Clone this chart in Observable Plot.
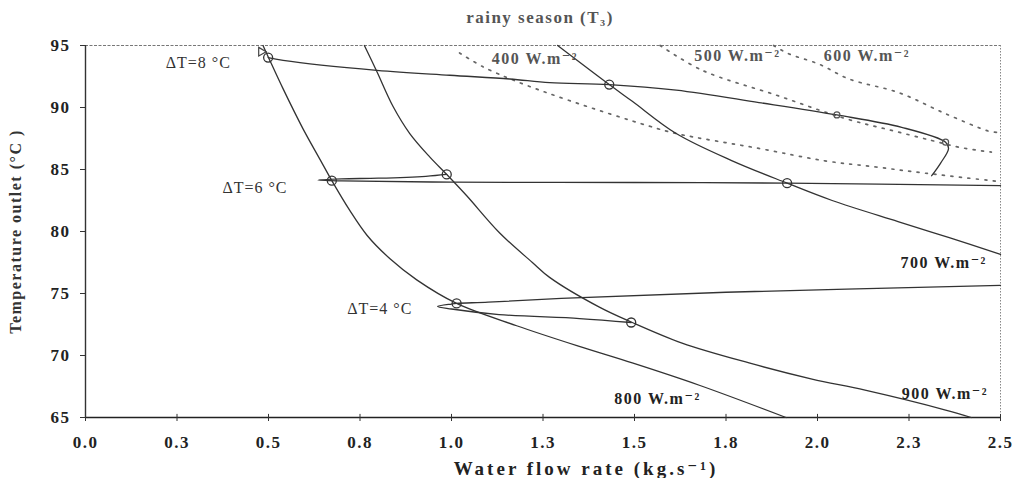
<!DOCTYPE html>
<html>
<head>
<meta charset="utf-8">
<script src="https://cdn.jsdelivr.net/npm/d3@7"></script>
<script src="https://cdn.jsdelivr.net/npm/@observablehq/plot@0.6"></script>
<style>
  html, body { margin: 0; padding: 0; background: #fff; }
  #chart svg { display: block; }
</style>
</head>
<body>
<div id="chart"></div>
<script>
// ---- axis ticks ----
const xTicks = [0, 0.25, 0.5, 0.75, 1.0, 1.25, 1.5, 1.75, 2.0, 2.25, 2.5];
const xTickLabels = ["0.0", "0.3", "0.5", "0.8", "1.0", "1.3", "1.5", "1.8", "2.0", "2.3", "2.5"];
const yTicks = [65, 70, 75, 80, 85, 90, 95];

// ---- solid irradiance curves (flow, temperature) ----
const flow800 = [0.485, 0.499, 0.540, 0.594, 0.641, 0.673, 0.722, 0.769, 0.832, 0.905, 1.014, 1.178, 1.358, 1.494, 1.677, 1.914];
const temp800 = [95.0, 94.1, 91.5, 88.3, 85.8, 84.1, 81.7, 79.7, 77.8, 76.1, 74.2, 72.4, 70.65, 69.4, 67.6, 65.0];
const flow900 = [0.762, 0.796, 0.840, 0.886, 0.941, 0.987, 1.041, 1.131, 1.221, 1.268, 1.404, 1.491, 1.63, 1.813, 1.985, 2.13, 2.35, 2.42];
const temp900 = [95.0, 92.9, 90.1, 87.9, 86.0, 84.6, 82.9, 79.9, 77.5, 76.3, 73.9, 72.7, 71.0, 69.4, 68.1, 67.2, 65.6, 65.0];
const flow700 = [1.29, 1.431, 1.494, 1.614, 1.767, 1.917, 2.04, 2.22, 2.36, 2.5];
const temp700 = [95.0, 91.85, 90.5, 87.9, 85.7, 83.9, 82.5, 80.8, 79.5, 78.15];

// ---- dotted irradiance curves ----
const flow400 = [1.022, 1.085, 1.178, 1.322, 1.54, 1.614, 1.84, 2.02, 2.16, 2.295, 2.49];
const temp400 = [94.4, 93.3, 92.1, 90.56, 88.5, 87.9, 86.7, 85.7, 85.2, 84.7, 84.05];
const flow500 = [1.57, 1.685, 1.887, 2.077, 2.203, 2.312, 2.386, 2.475];
const temp500 = [95.0, 93.0, 91.0, 89.1, 88.15, 87.34, 86.8, 86.4];
const flow600 = [1.88, 1.92, 2.004, 2.086, 2.222, 2.35, 2.467, 2.49];
const temp600 = [95.0, 94.35, 93.5, 92.3, 91.2, 89.5, 88.1, 88.0];

// ---- constant ΔT paths ----
const flowDT8 = [0.499, 0.54, 0.796, 0.995, 1.159, 1.268, 1.431, 1.614, 1.84, 2.053, 2.23, 2.35, 2.358, 2.336, 2.312];
const tempDT8 = [94.03, 93.8, 93.0, 92.6, 92.3, 92.0, 91.85, 91.4, 90.4, 89.4, 88.4, 87.2, 86.7, 85.5, 84.5];
const flowDT6 = [0.987, 0.93, 0.80, 0.70, 0.635, 0.70, 1.0, 1.5, 1.917, 2.5];
const tempDT6 = [84.6, 84.45, 84.3, 84.25, 84.15, 84.08, 83.98, 83.95, 83.9, 83.7];
const flowDT4 = [1.491, 1.35, 1.13, 1.0, 0.962, 1.0, 1.014, 1.1, 1.3, 1.75, 2.5];
const tempDT4 = [72.66, 72.98, 73.3, 73.75, 73.95, 74.15, 74.2, 74.3, 74.6, 75.1, 75.65];

// ---- markers ----
const markFlow = [0.499, 1.431, 0.673, 0.987, 1.917, 1.014, 1.491];
const markTemp = [94.03, 91.85, 84.1, 84.6, 83.9, 74.2, 72.66];
const smallMarkFlow = [2.053, 2.35];
const smallMarkTemp = [89.4, 87.2];
const triFlow = [0.48];
const triTemp = [94.5];

// ---- labels ----
const irrLabels = ["400 W.m⁻²", "500 W.m⁻²", "600 W.m⁻²", "700 W.m⁻²", "800 W.m⁻²", "900 W.m⁻²"];
const irrLabelFlow = [1.11, 1.663, 2.017, 2.227, 1.445, 2.23];
const irrLabelTemp = [93.95, 94.2, 94.2, 77.5, 66.5, 66.9];
const irrLabelColor = ["#555", "#555", "#555", "#222", "#222", "#222"];
const dtLabels = ["ΔT=8 °C", "ΔT=6 °C", "ΔT=4 °C"];
const dtLabelFlow = [0.308, 0.463, 0.804];
const dtLabelTemp = [93.6, 83.5, 73.8];

const title = "rainy season (T₃)";
const xTitle = "Water flow rate (kg.s⁻¹)";
const yTitle = "Temperature outlet (°C )";

// ---- build tables ----
function series(name, xs, ys) { return xs.map((x, i) => ({series: name, flow: x, temp: ys[i]})); }
const solidRows = [
  ...series("800", flow800, temp800),
  ...series("900", flow900, temp900),
  ...series("700", flow700, temp700),
  ...series("dT8", flowDT8, tempDT8),
  ...series("dT6", flowDT6, tempDT6),
  ...series("dT4", flowDT4, tempDT4)
];
const dottedRows = [
  ...series("400", flow400, temp400),
  ...series("500", flow500, temp500),
  ...series("600", flow600, temp600)
];
const marks = markFlow.map((x, i) => ({flow: x, temp: markTemp[i]}));
const smallMarks = smallMarkFlow.map((x, i) => ({flow: x, temp: smallMarkTemp[i]}));
const tris = triFlow.map((x, i) => ({flow: x, temp: triTemp[i]}));
const irrRows = irrLabels.map((t, i) => ({text: t, flow: irrLabelFlow[i], temp: irrLabelTemp[i], color: irrLabelColor[i]}));
const dtRows = dtLabels.map((t, i) => ({text: t, flow: dtLabelFlow[i], temp: dtLabelTemp[i]}));

const serif = "'Liberation Serif', 'Times New Roman', 'DejaVu Serif', serif";

const chart = Plot.plot({
  width: 1017,
  height: 478,
  marginLeft: 85,
  marginRight: 17,
  marginTop: 45,
  marginBottom: 61,
  style: {fontFamily: serif, background: "#fff"},
  x: {domain: [0, 2.5]},
  y: {domain: [65, 95]},
  marks: [
    // frame
    Plot.ruleY([95], {stroke: "#777", strokeWidth: 1.2, strokeDasharray: "3,1.5"}),
    Plot.ruleX([2.5], {stroke: "#888", strokeWidth: 1, strokeDasharray: "1.5,1.5"}),
    Plot.ruleY([65], {stroke: "#222", strokeWidth: 1.6}),
    Plot.ruleX([0], {stroke: "#333", strokeWidth: 1.4}),
    Plot.ruleX(xTicks, {y1: 65, y2: 65.25, stroke: "#333", strokeWidth: 1}),
    Plot.axisX(xTicks, {
      tickFormat: d => xTickLabels[xTicks.indexOf(d)],
      tickSize: 4, tickPadding: 14, label: null,
      fontSize: 17, fontWeight: "bold", fontFamily: serif, fill: "#222", stroke: "#333"
    }),
    Plot.axisY(yTicks, {
      tickSize: 5, tickPadding: 10, label: null,
      fontSize: 17, fontWeight: "bold", fontFamily: serif, fill: "#222", stroke: "#333"
    }),
    // dotted curves
    Plot.line(dottedRows, {x: "flow", y: "temp", z: "series", stroke: "#666", strokeWidth: 1.7, strokeDasharray: "2,6.5", curve: "catmull-rom"}),
    // solid curves
    Plot.line(solidRows, {x: "flow", y: "temp", z: "series", stroke: "#333", strokeWidth: 1.3, curve: "catmull-rom"}),
    // markers
    Plot.dot(marks, {x: "flow", y: "temp", r: 4.5, stroke: "#333", strokeWidth: 1.3, fill: "none"}),
    Plot.dot(smallMarks, {x: "flow", y: "temp", r: 3, stroke: "#555", strokeWidth: 1.2, fill: "none"}),
    Plot.dot(tris, {x: "flow", y: "temp", r: 3.2, symbol: "triangle", stroke: "#444", strokeWidth: 1.2, fill: "none", rotate: -30}),
    // labels
    Plot.text(irrRows, {x: "flow", y: "temp", text: "text", fill: "color", textAnchor: "start", fontSize: 16, fontWeight: "bold", fontFamily: serif}),
    Plot.text(dtRows, {x: "flow", y: "temp", text: "text", fill: "#333", textAnchor: "middle", fontSize: 16, fontFamily: serif}),
    // titles
    Plot.text([title], {frameAnchor: "top", dx: -3, dy: -28, lineAnchor: "middle", fontSize: 17, fontWeight: "bold", fill: "#555", fontFamily: serif}),
    Plot.text([xTitle], {frameAnchor: "bottom", dx: 43, dy: 51, lineAnchor: "middle", fontSize: 19, fontWeight: "bold", fill: "#222", fontFamily: serif}),
    Plot.text([yTitle], {frameAnchor: "left", dx: -70, rotate: -90, textAnchor: "middle", lineAnchor: "middle", fontSize: 16, fontWeight: "bold", fill: "#333", fontFamily: serif})
  ]
});

// letter spacing to imitate the wide scanned typeface
const spacing = new Map([
  [title, "1.5px"], [xTitle, "3px"], [yTitle, "1.5px"]
]);
irrLabels.forEach(t => spacing.set(t, "1.5px"));
dtLabels.forEach(t => spacing.set(t, "1px"));
d3.select(chart).selectAll("text").each(function() {
  const t = this.textContent;
  if (spacing.has(t)) this.setAttribute("letter-spacing", spacing.get(t));
  else if (xTickLabels.includes(t) || yTicks.map(String).includes(t)) this.setAttribute("letter-spacing", "1.5px");
});
document.getElementById("chart").appendChild(chart);
</script>
</body>
</html>
